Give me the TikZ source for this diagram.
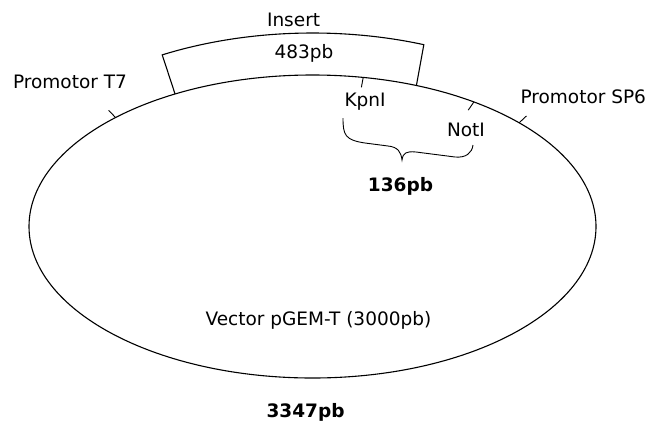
\documentclass[tikz,border=0pt]{standalone}
\usepackage{fontspec}
\setmainfont{DejaVu Sans}
\usetikzlibrary{calc}
\tikzset{
    plasmidmap/.style={x=1pt, y=-1pt, line width=1.1pt, font=\fontsize{18.5}{20}\selectfont},
    tag/.style={inner sep=0pt, anchor=base west},
    sizetag/.style={inner sep=0pt, anchor=base, font=\fontsize{18.5}{20}\selectfont\bfseries},
    sitetick/.style={line width=0.9pt},
}

\begin{document}
\begin{tikzpicture}[plasmidmap]
    \useasboundingbox (0,0) rectangle (647,421);
    \coordinate (c) at (312.5,226.5);

    % vector backbone
    \draw (c) ellipse [x radius=283.5, y radius=151.5];

    % insert box on top of the vector (y points down, so angles are negative)
    \coordinate (insl) at ($(c)+(-119:283.5 and 151.5)$);
    \coordinate (insr) at ($(c)+(-68.5:283.5 and 151.5)$);
    \draw (insl) -- ($(c)+(-117.5:325.5 and 193.5)$)
        arc[start angle=-117.5, end angle=-70, x radius=325.5, y radius=193.5] -- (insr);

    % promoters (ticks outside) and sites (ticks inside)
    \coordinate (t7)   at ($(c)+(-134:283.5 and 151.5)$);
    \coordinate (sp6)  at ($(c)+(-43.2:283.5 and 151.5)$);
    \coordinate (kpn)  at ($(c)+(-79.7:283.5 and 151.5)$);
    \coordinate (not)  at ($(c)+(-55.3:283.5 and 151.5)$);
    \draw[sitetick] (t7)  -- ($(c)+(-134:293.5 and 161.5)$);
    \draw[sitetick] (sp6) -- ($(c)+(-43.2:293.5 and 161.5)$);
    \draw[sitetick] (kpn) -- ($(c)+(-79.7:273.5 and 141.5)$);
    \draw[sitetick] (not) -- ($(c)+(-55.3:273.5 and 141.5)$);

    % brace between the two sites
    \draw[sitetick] (343,118) .. controls (343,135) and (345,140) .. (365,143)
        -- (388,146) .. controls (398,147) and (401,152) .. (402,160)
        .. controls (403,153) and (406,151) .. (416,152)
        -- (455,157) .. controls (466,158) and (472,153) .. (473,145);

    \node[tag] (insert) at (266.5,26.5)  {Insert};
    \node[tag] (len)    at (274,58)      {483pb};
    \node[tag] (pt7)    at (12.5,88)     {Promotor T7};
    \node[tag] (psp6)   at (520,103)     {Promotor SP6};
    \node[tag] (kpnl)   at (344,106.5)   {KpnI};
    \node[tag] (notl)   at (446.5,136.5) {NotI};
    \node[sizetag] (frag) at (400.5,191.5) {136pb};
    \node[tag] (vector) at (205,325)     {Vector pGEM-T (3000pb)};
    \node[sizetag] (total) at (305.5,417.5) {3347pb};
\end{tikzpicture}
\end{document}
